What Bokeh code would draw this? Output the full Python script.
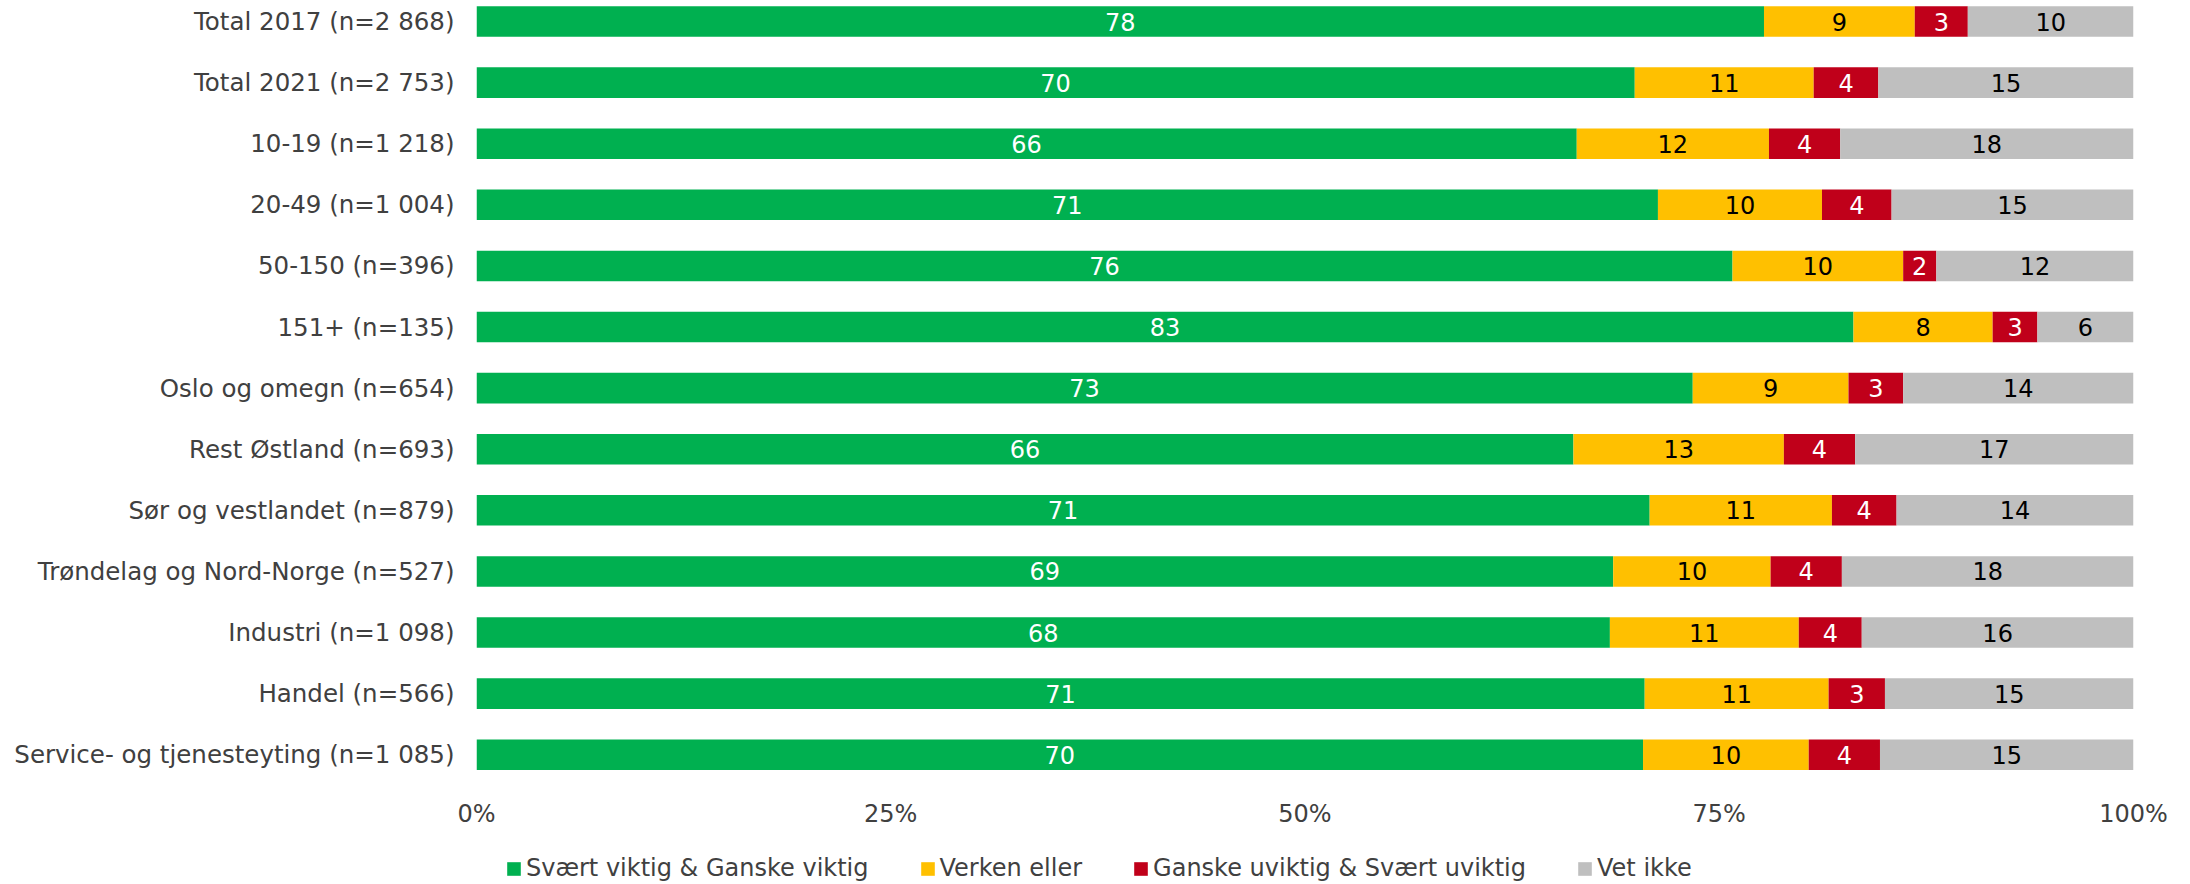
import numpy as np
from bokeh.plotting import figure
from bokeh.layouts import column
from bokeh.models import Range1d, FixedTicker, Legend, LegendItem, ColumnDataSource
from bokeh.core.properties import value
from bokeh.embed import file_html
from bokeh.resources import INLINE

categories = [
    "Total 2017 (n=2 868)",
    "Total 2021 (n=2 753)",
    "10-19 (n=1 218)",
    "20-49 (n=1 004)",
    "50-150 (n=396)",
    "151+ (n=135)",
    "Oslo og omegn (n=654)",
    "Rest Østland (n=693)",
    "Sør og vestlandet (n=879)",
    "Trøndelag og Nord-Norge (n=527)",
    "Industri (n=1 098)",
    "Handel (n=566)",
    "Service- og tjenesteyting (n=1 085)",
]
series_names = ["Svært viktig & Ganske viktig", "Verken eller",
                "Ganske uviktig & Svært uviktig", "Vet ikke"]

viktig = [77.7, 69.9, 66.4, 71.3, 75.8, 83.1, 73.4, 66.2, 70.8, 68.6, 68.4, 70.5, 70.4]
verken = [9.1, 10.8, 11.6, 9.9, 10.3, 8.4, 9.4, 12.7, 11.0, 9.5, 11.4, 11.1, 10.0]
uviktig = [3.2, 3.9, 4.3, 4.2, 2.0, 2.7, 3.3, 4.3, 3.9, 4.3, 3.8, 3.4, 4.3]
vet_ikke = [10.0, 15.4, 17.7, 14.6, 11.9, 5.8, 13.9, 16.8, 14.3, 17.6, 16.4, 15.0, 15.3]

lab_viktig = [78, 70, 66, 71, 76, 83, 73, 66, 71, 69, 68, 71, 70]
lab_verken = [9, 11, 12, 10, 10, 8, 9, 13, 11, 10, 11, 11, 10]
lab_uviktig = [3, 4, 4, 4, 2, 3, 3, 4, 4, 4, 4, 3, 4]
lab_vet = [10, 15, 18, 15, 12, 6, 14, 17, 14, 18, 16, 15, 15]

tick_values = [0, 25, 50, 75, 100]
tick_labels = ["0%", "25%", "50%", "75%", "100%"]

colors = ["#00B050", "#FFC000", "#C0001A", "#BFBFBF"]
text_colors = ["#FFFFFF", "#000000", "#FFFFFF", "#000000"]
FONT = "DejaVu Sans"

n = len(categories)
ypos = np.arange(n)[::-1].astype(float)

p = figure(width=2190, height=840, output_backend="svg", toolbar_location=None,
           x_range=Range1d(0, 100), y_range=Range1d(-0.422, 12.344),
           min_border_left=476, min_border_right=57, min_border_top=0,
           min_border_bottom=60)
p.outline_line_color = None
p.xgrid.visible = False
p.ygrid.visible = False
p.background_fill_color = "white"
p.border_fill_color = "white"

series = [viktig, verken, uviktig, vet_ikke]
labels = [lab_viktig, lab_verken, lab_uviktig, lab_vet]
left = np.zeros(n)
for vals, labs, col, tcol in zip(series, labels, colors, text_colors):
    vals = np.array(vals, dtype=float)
    right = left + vals
    src = ColumnDataSource(dict(y=ypos, left=left, right=right,
                                mid=(left + right) / 2,
                                lab=[str(v) for v in labs]))
    p.hbar(y="y", left="left", right="right", height=0.5, source=src,
           fill_color=col, line_color=None)
    p.text(x="mid", y="y", text="lab", source=src, text_align="center",
           text_baseline="middle", text_color=tcol,
           text_font=value(FONT), text_font_size="24px")
    left = right

# axes
p.xaxis.ticker = FixedTicker(ticks=tick_values)
p.xaxis.major_label_overrides = {v: l for v, l in zip(tick_values, tick_labels)}
p.xaxis.axis_line_color = None
p.xaxis.major_tick_line_color = None
p.xaxis.minor_tick_line_color = None
p.xaxis.major_label_standoff = 13
p.xaxis.major_label_text_font = FONT
p.xaxis.major_label_text_font_size = "24px"
p.xaxis.major_label_text_color = "#404040"

p.yaxis.ticker = FixedTicker(ticks=list(ypos))
p.yaxis.major_label_overrides = {float(y): c for y, c in zip(ypos, categories)}
p.yaxis.axis_line_color = None
p.yaxis.major_tick_line_color = None
p.yaxis.minor_tick_line_color = None
p.yaxis.major_label_standoff = 16
p.yaxis.major_label_text_font = FONT
p.yaxis.major_label_text_font_size = "24.5px"
p.yaxis.major_label_text_color = "#404040"

# legend strip (frame aligned with the main plot's frame by the column layout)
pl = figure(width=2190, height=44, output_backend="svg", toolbar_location=None,
            x_range=Range1d(0, 1), y_range=Range1d(0, 1),
            x_axis_location=None, y_axis_location=None,
            min_border_left=0, min_border_right=0, min_border_top=0,
            min_border_bottom=0)
pl.outline_line_color = None
pl.xgrid.visible = False
pl.ygrid.visible = False
leg_renderers = []
for col in colors:
    # legend proxies, placed outside the visible range
    leg_renderers.append(pl.hbar(y=[-10], left=[0], right=[1], height=0.5,
                                 fill_color=col, line_color=None))
items = [LegendItem(label=nm, renderers=[r]) for nm, r in zip(series_names, leg_renderers)]
legend = Legend(items=items, orientation="horizontal", location=(29, 2),
                padding=0, margin=0, spacing=50, label_standoff=4,
                glyph_width=17, glyph_height=17, label_height=24,
                label_text_font=FONT, label_text_font_size="24px",
                label_text_color="#404040", border_line_color=None,
                background_fill_alpha=0)
pl.add_layout(legend, "center")

layout = column(p, pl, spacing=0)
open("out.html", "w").write(file_html(layout, INLINE))
